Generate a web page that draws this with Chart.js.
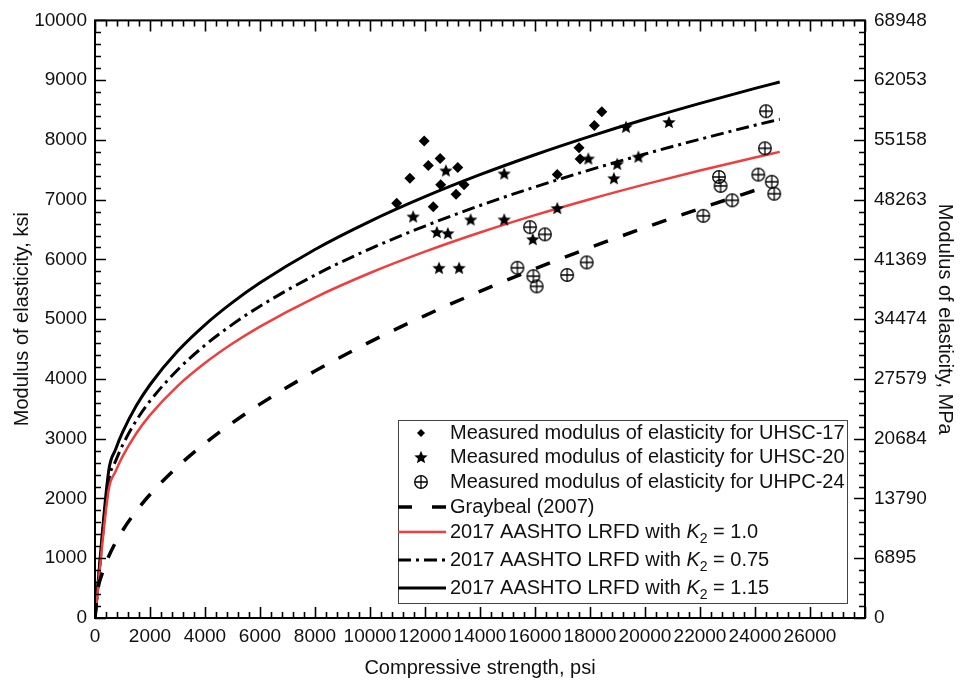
<!DOCTYPE html>
<html>
<head>
<meta charset="utf-8">
<title>Modulus of elasticity vs compressive strength</title>
<script src="https://cdn.jsdelivr.net/npm/chart.js@4"></script>
<style>
  html, body { margin: 0; padding: 0; background: #fff; }
  canvas { display: block; }
</style>
</head>
<body>
<canvas id="chart" width="962" height="685"></canvas>
<script>
const FONT = '"Liberation Sans", Arial, sans-serif';

// measured points (psi, ksi)
const uhsc17Strength = [10970, 11450, 11970, 12120, 12550, 12570, 12300, 13190, 13420, 13130, 16810, 17600, 17640, 18160, 18430];
const uhsc17Modulus  = [6940, 7360, 7980, 7570, 7690, 7250, 6880, 7540, 7250, 7090, 7420, 7870, 7680, 8240, 8470];

const uhsc20Strength = [11570, 12760, 12430, 12830, 12510, 13240, 13660, 14880, 14880, 15920, 16810, 17940, 18870, 18990, 19310, 19760, 20870];
const uhsc20Modulus  = [6720, 7490, 6460, 6440, 5860, 5860, 6670, 7440, 6670, 6340, 6860, 7690, 7360, 7600, 8220, 7720, 8300];

const uhpc24Strength = [15820, 16360, 15360, 15940, 16060, 17170, 17880, 22120, 22690, 22750, 23170, 24120, 24400, 24360, 24610, 24700];
const uhpc24Modulus  = [6540, 6420, 5860, 5720, 5550, 5740, 5950, 6730, 7380, 7230, 6990, 7420, 8480, 7860, 7300, 7100];

// prediction curves
const curveStrength = [0, 500, 750, 1000, 1500, 2000, 3000, 4000, 5000, 6000, 8000, 10000, 12000, 14000, 16000, 18000, 20000, 22000, 24000, 24900];
const aashtoK100 = [0, 2148, 2455, 2700, 3087, 3394, 3880, 4266, 4592, 4877, 5363, 5773, 6130, 6450, 6741, 7008, 7256, 7488, 7706, 7800];
const aashtoK075 = [0, 2298, 2627, 2889, 3303, 3631, 4151, 4565, 4913, 5218, 5738, 6177, 6559, 6902, 7213, 7499, 7764, 8012, 8246, 8346];
const aashtoK115 = [0, 2470, 2824, 3105, 3550, 3903, 4462, 4906, 5281, 5609, 6167, 6638, 7050, 7418, 7752, 8059, 8345, 8611, 8862, 8970];

const graybealStrength = [0, 100, 250, 500, 1000, 1500, 2000, 3000, 4000, 5000, 6000, 8000, 10000, 12000, 14000, 16000, 18000, 20000, 22000, 24300];
const graybealModulus  = [0, 462, 730, 1033, 1461, 1789, 2066, 2531, 2922, 3267, 3579, 4132, 4620, 5061, 5466, 5844, 6198, 6532, 6851, 7202];

const xTicks = [0, 2000, 4000, 6000, 8000, 10000, 12000, 14000, 16000, 18000, 20000, 22000, 24000, 26000];
const yTicks = [0, 1000, 2000, 3000, 4000, 5000, 6000, 7000, 8000, 9000, 10000];
const mpaLabels = ['0', '6895', '13790', '20684', '27579', '34474', '41369', '48263', '55158', '62053', '68948'];

const legendLabels = [
  'Measured modulus of elasticity for UHSC-17',
  'Measured modulus of elasticity for UHSC-20',
  'Measured modulus of elasticity for UHPC-24',
  'Graybeal (2007)',
  '2017 AASHTO LRFD with K_2 = 1.0',
  '2017 AASHTO LRFD with K_2 = 0.75',
  '2017 AASHTO LRFD with K_2 = 1.15',
];

const pts = (xs, ys) => xs.map((x, i) => ({ x, y: ys[i] }));

function starImg(r) {
  const s = Math.ceil(r * 2 + 2);
  const c = document.createElement('canvas');
  c.width = c.height = s;
  const g = c.getContext('2d');
  g.translate(s / 2, s / 2 + r * 0.1);
  g.beginPath();
  for (let i = 0; i < 10; i++) {
    const rr = i % 2 ? r * 0.45 : r;
    const a = -Math.PI / 2 + i * Math.PI / 5;
    g.lineTo(rr * Math.cos(a), rr * Math.sin(a));
  }
  g.closePath();
  g.fillStyle = '#000';
  g.fill();
  return c;
}

function circlePlusImg(r) {
  const s = Math.ceil(r * 2 + 3);
  const c = document.createElement('canvas');
  c.width = c.height = s;
  const g = c.getContext('2d');
  g.translate(s / 2, s / 2);
  g.strokeStyle = '#000';
  g.lineWidth = 1.3;
  g.beginPath();
  g.arc(0, 0, r, 0, Math.PI * 2);
  g.moveTo(-r, 0); g.lineTo(r, 0);
  g.moveTo(0, -r); g.lineTo(0, r);
  g.stroke();
  return c;
}

const STAR = starImg(7);
const CPLUS = circlePlusImg(6.3);

const scatterDs = (label, data, style, radius) => ({
  label, data, showLine: false,
  pointStyle: style, pointRadius: radius, pointBackgroundColor: '#000',
  pointBorderWidth: 0, pointBorderColor: '#000',
});

const lineDs = (label, data, color, width, dash) => ({
  label, data, showLine: true, pointRadius: 0,
  borderColor: color, borderWidth: width, borderDash: dash,
  cubicInterpolationMode: 'monotone', fill: false,
});

const datasets = [
  scatterDs(legendLabels[0], pts(uhsc17Strength, uhsc17Modulus), 'rectRot', 5.5),
  scatterDs(legendLabels[1], pts(uhsc20Strength, uhsc20Modulus), STAR, 7),
  scatterDs(legendLabels[2], pts(uhpc24Strength, uhpc24Modulus), CPLUS, 6),
  lineDs(legendLabels[3], pts(graybealStrength, graybealModulus), '#000', 3.5, [15, 16]),
  lineDs(legendLabels[4], pts(curveStrength, aashtoK100), '#ef3e3e', 2.5, []),
  lineDs(legendLabels[5], pts(curveStrength, aashtoK075), '#000', 3, [13, 5, 3, 5]),
  lineDs(legendLabels[6], pts(curveStrength, aashtoK115), '#000', 3, []),
];

// label text with italic K and subscript 2
function drawLabel(ctx, text, x, y) {
  const parts = text.split('K_2');
  ctx.font = '20px ' + FONT;
  ctx.fillText(parts[0], x, y);
  if (parts.length < 2) return;
  x += ctx.measureText(parts[0]).width;
  ctx.font = 'italic 20px ' + FONT;
  ctx.fillText('K', x, y);
  x += ctx.measureText('K').width;
  ctx.font = '14px ' + FONT;
  ctx.fillText('2', x, y + 7);
  x += ctx.measureText('2').width;
  ctx.font = '20px ' + FONT;
  ctx.fillText(parts[1], x, y);
}

const frameAndLegend = {
  id: 'frameAndLegend',
  afterDraw(chart) {
    const { ctx, chartArea: a, scales: { x, y } } = chart;
    ctx.save();

    // axis box with inward ticks
    ctx.strokeStyle = '#000';
    ctx.lineWidth = 2;
    ctx.strokeRect(a.left, a.top, a.right - a.left, a.bottom - a.top);
    ctx.lineWidth = 1.6;
    ctx.beginPath();
    for (let v = 0; v <= 28000; v += 400) {
      const px = Math.round(x.getPixelForValue(v)) + 0.5;
      const len = v % 2000 ? 6 : 11;
      ctx.moveTo(px, a.bottom); ctx.lineTo(px, a.bottom - len);
      ctx.moveTo(px, a.top); ctx.lineTo(px, a.top + len);
    }
    for (let v = 0; v <= 10000; v += 200) {
      const py = Math.round(y.getPixelForValue(v)) + 0.5;
      const len = v % 1000 ? 6 : 11;
      ctx.moveTo(a.left, py); ctx.lineTo(a.left + len, py);
      ctx.moveTo(a.right, py); ctx.lineTo(a.right - len, py);
    }
    ctx.stroke();

    // legend
    const box = { l: 398, t: 420, r: 847, b: 603 };
    const rows = [433, 457, 482, 507, 532, 560, 588];
    ctx.fillStyle = '#fff';
    ctx.fillRect(box.l, box.t, box.r - box.l, box.b - box.t);
    ctx.strokeStyle = '#444';
    ctx.lineWidth = 1;
    ctx.strokeRect(box.l + 0.5, box.t + 0.5, box.r - box.l, box.b - box.t);

    chart.data.datasets.forEach((ds, i) => {
      const ry = rows[i];
      if (ds.showLine) {
        ctx.save();
        ctx.strokeStyle = ds.borderColor;
        ctx.lineWidth = ds.borderWidth;
        ctx.setLineDash(i === 3 ? [14, 20] : ds.borderDash);
        ctx.beginPath();
        ctx.moveTo(398, ry); ctx.lineTo(446, ry);
        ctx.stroke();
        ctx.restore();
      } else if (ds.pointStyle === 'rectRot') {
        ctx.fillStyle = '#000';
        ctx.beginPath();
        ctx.moveTo(421 - 4, ry); ctx.lineTo(421, ry - 4);
        ctx.lineTo(421 + 4, ry); ctx.lineTo(421, ry + 4);
        ctx.closePath();
        ctx.fill();
      } else {
        const img = ds.pointStyle;
        ctx.drawImage(img, 421 - img.width / 2, ry - img.height / 2);
      }
      ctx.fillStyle = '#111';
      ctx.textBaseline = 'middle';
      ctx.textAlign = 'left';
      drawLabel(ctx, legendLabels[i], 450, ry);
    });
    ctx.restore();
  }
};

const tickFont = { family: FONT, size: 19 };
const titleFont = { family: FONT, size: 20 };

new Chart(document.getElementById('chart'), {
  type: 'scatter',
  data: { datasets },
  options: {
    responsive: false,
    animation: false,
    layout: { padding: { top: 17, left: 0, right: 0, bottom: 0 } },
    plugins: { legend: { display: false }, tooltip: { enabled: false } },
    scales: {
      x: {
        type: 'linear', min: 0, max: 28000,
        afterBuildTicks: s => { s.ticks = xTicks.map(v => ({ value: v })); },
        afterFit: s => { s.height = 67; },
        grid: { display: false, drawTicks: false },
        border: { display: false },
        ticks: { color: '#111', font: tickFont, padding: 7, maxRotation: 0, autoSkip: false, callback: v => String(v) },
        title: { display: true, text: 'Compressive strength, psi', color: '#111', font: titleFont, padding: { top: 0, bottom: 5 } },
      },
      y: {
        type: 'linear', position: 'left', min: 0, max: 10000,
        afterBuildTicks: s => { s.ticks = yTicks.map(v => ({ value: v })); },
        afterFit: s => { s.width = 95; },
        grid: { display: false, drawTicks: false },
        border: { display: false },
        ticks: { color: '#111', font: tickFont, padding: 8, autoSkip: false, callback: v => String(v) },
        title: { display: true, text: 'Modulus of elasticity, ksi', color: '#111', font: titleFont, padding: { top: 10, bottom: 0 } },
      },
      y2: {
        type: 'linear', position: 'right', min: 0, max: 10000,
        afterBuildTicks: s => { s.ticks = yTicks.map(v => ({ value: v })); },
        afterFit: s => { s.width = 97; },
        grid: { display: false, drawTicks: false },
        border: { display: false },
        ticks: { color: '#111', font: tickFont, padding: 9, autoSkip: false, callback: (v, i) => mpaLabels[i] },
        title: { display: true, text: 'Modulus of elasticity, MPa', color: '#111', font: titleFont, padding: { top: 5, bottom: 0 } },
      },
    },
  },
  plugins: [frameAndLegend],
});
</script>
</body>
</html>
